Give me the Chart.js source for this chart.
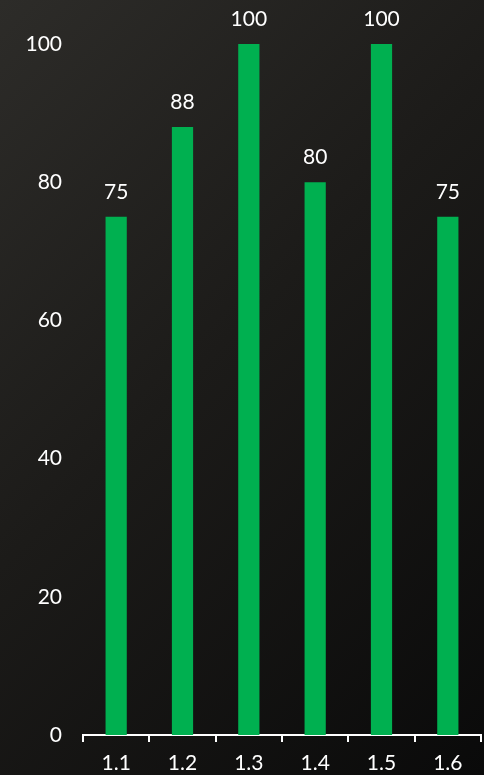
<!DOCTYPE html>
<html>
<head>
<meta charset="utf-8">
<script src="https://cdn.jsdelivr.net/npm/chart.js@4"></script>
<style>
  html, body { margin: 0; padding: 0; }
  body { width: 484px; height: 775px; background: linear-gradient(135deg, #2d2c29 0%, #1c1b19 45%, #0a0a0a 100%); }
  #wrap { width: 484px; height: 775px; position: relative; }
</style>
</head>
<body>
<div id="wrap"><canvas id="c"></canvas></div>
<script>
const categories = ["1.1", "1.2", "1.3", "1.4", "1.5", "1.6"];
const values = [75, 88, 100, 80, 100, 75];
const yTicks = [0, 20, 40, 60, 80, 100];

const FONT = "Lato, 'Open Sans', sans-serif";
const FSIZE = 21;

const valueLabels = {
  id: 'valueLabels',
  afterDatasetsDraw(chart) {
    const ctx = chart.ctx;
    const meta = chart.getDatasetMeta(0);
    ctx.save();
    ctx.fillStyle = '#ffffff';
    ctx.font = FSIZE + 'px ' + FONT;
    ctx.textAlign = 'center';
    ctx.textBaseline = 'alphabetic';
    meta.data.forEach((bar, i) => {
      ctx.fillText(String(values[i]), bar.x, bar.y - 18);
    });
    ctx.restore();
  }
};

new Chart(document.getElementById('c'), {
  type: 'bar',
  data: {
    labels: categories,
    datasets: [{
      data: values,
      backgroundColor: '#00b050',
      borderWidth: 0,
      categoryPercentage: 1,
      barPercentage: 0.32
    }]
  },
  options: {
    responsive: true,
    maintainAspectRatio: false,
    animation: false,
    events: [],
    layout: { padding: { top: 44, right: 3, left: 0, bottom: 0 } },
    plugins: { legend: { display: false }, tooltip: { enabled: false } },
    scales: {
      x: {
        grid: { display: true, drawOnChartArea: false, drawTicks: true, tickLength: 7, color: '#ffffff', lineWidth: 2, offset: true },
        border: { display: true, color: '#ffffff', width: 2 },
        ticks: { color: '#ffffff', font: { family: FONT, size: FSIZE }, padding: 9, maxRotation: 0 },
        afterFit(scale) { scale.height = 40; }
      },
      y: {
        min: 0, max: 100,
        afterBuildTicks(scale) { scale.ticks = yTicks.map(v => ({ value: v })); },
        grid: { display: false, drawTicks: false },
        border: { display: false },
        ticks: { color: '#ffffff', font: { family: FONT, size: FSIZE }, padding: 21 },
        afterFit(scale) { scale.width = 83; }
      }
    }
  },
  plugins: [valueLabels]
});
</script>
</body>
</html>
